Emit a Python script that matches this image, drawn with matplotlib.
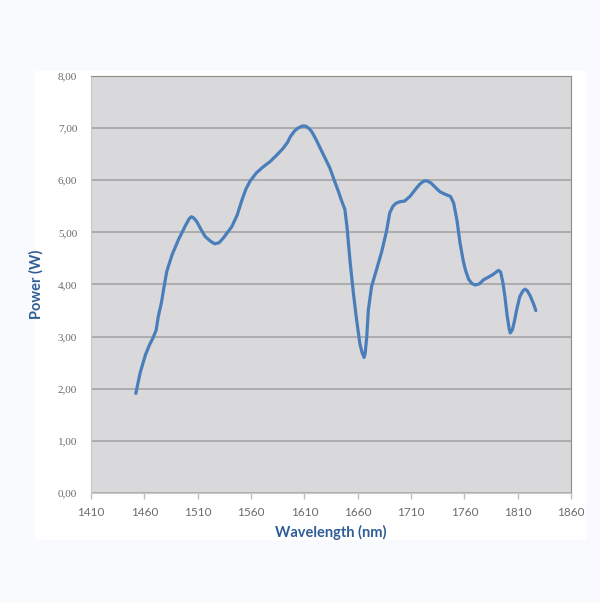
import matplotlib.pyplot as plt
from matplotlib.patches import Rectangle

# values
wavelength = [1452, 1456, 1461, 1465, 1468, 1471, 1473, 1476, 1478, 1481, 1486, 1492,
              1498, 1502, 1504, 1506, 1509, 1513, 1517, 1522, 1526, 1530, 1534, 1538,
              1542, 1547, 1551, 1555, 1559, 1565, 1571, 1578, 1584, 1590, 1594, 1597,
              1601, 1604, 1608, 1611, 1614, 1617, 1621, 1625, 1630, 1634, 1638, 1642,
              1645, 1648, 1650, 1653, 1656, 1659, 1662, 1664, 1666, 1667, 1668.5, 1670,
              1673, 1678, 1682.5, 1687, 1690, 1693, 1696, 1700, 1704, 1709, 1714, 1718,
              1721, 1723, 1726, 1729, 1733, 1737, 1742, 1747, 1750, 1753, 1756, 1759,
              1761, 1764, 1767, 1770, 1774, 1778, 1786, 1790, 1792, 1794, 1796, 1798,
              1800, 1802, 1803, 1805, 1807, 1809, 1812, 1815, 1817, 1819, 1822, 1825,
              1827]
power = [1.91, 2.30, 2.65, 2.85, 2.97, 3.12, 3.38, 3.65, 3.90, 4.25, 4.57, 4.86,
         5.11, 5.26, 5.30, 5.28, 5.21, 5.06, 4.92, 4.83, 4.78, 4.80, 4.89, 5.00,
         5.11, 5.33, 5.59, 5.82, 5.98, 6.14, 6.25, 6.36, 6.48, 6.61, 6.72, 6.84,
         6.95, 7.00, 7.04, 7.04, 7.00, 6.93, 6.78, 6.61, 6.40, 6.23, 6.00, 5.78,
         5.60, 5.44, 5.10, 4.41, 3.83, 3.32, 2.87, 2.70, 2.60, 2.68, 3.00, 3.51,
         3.96, 4.31, 4.63, 5.02, 5.37, 5.50, 5.56, 5.59, 5.60, 5.69, 5.82, 5.92,
         5.97, 5.99, 5.98, 5.94, 5.86, 5.78, 5.73, 5.69, 5.56, 5.24, 4.79, 4.45,
         4.28, 4.10, 4.02, 3.99, 4.01, 4.09, 4.18, 4.24, 4.27, 4.24, 4.05, 3.77,
         3.42, 3.15, 3.07, 3.13, 3.30, 3.51, 3.77, 3.88, 3.91, 3.88, 3.77, 3.62,
         3.50]

x_ticks = [1410, 1460, 1510, 1560, 1610, 1660, 1710, 1760, 1810, 1860]
y_ticks = [0, 1, 2, 3, 4, 5, 6, 7, 8]

fig = plt.figure(figsize=(6.0, 6.02), dpi=100, facecolor='#f8fafd')
# white chart panel behind the plot
fig.patches.append(Rectangle((0.058, 0.103), 0.919, 0.779, transform=fig.transFigure,
                             facecolor='white', edgecolor='none', zorder=-10))

ax = fig.add_axes([0.1517, 0.1811, 0.8, 0.6927])
ax.set_facecolor('#d9d9db')
ax.plot(wavelength, power, color='#4a7ebb', lw=2.3, solid_capstyle='round',
        solid_joinstyle='round', zorder=3)

ax.set_xlim(1410, 1860)
ax.set_ylim(0, 8)
ax.set_xticks(x_ticks)
ax.set_yticks(y_ticks)
ax.set_yticklabels([f"{v:.2f}".replace('.', ',') for v in y_ticks])
ax.grid(axis='y', color='#a5a5a5', lw=1.2)
ax.set_axisbelow(True)

ax.tick_params(axis='x', colors='#bfbfbf', length=4, width=1, labelcolor='#6b6b6b',
               labelsize=8.5, pad=6)
ax.tick_params(axis='y', length=0, labelcolor='#6b6b6b', labelsize=8, pad=10)
for lab in ax.get_xticklabels():
    lab.set_family('Lato')
for lab in ax.get_yticklabels():
    lab.set_family('Liberation Serif')

for side in ['left', 'bottom']:
    ax.spines[side].set_color('#c8c8c8')
for side in ['top', 'right']:
    ax.spines[side].set_color('#8e8e80')

ax.set_xlabel('Wavelength (nm)', fontsize=10.5, fontweight='bold', color='#2f5d96',
              family='Lato', labelpad=5)
ax.set_ylabel('Power (W)', fontsize=10.5, fontweight='bold', color='#2f5d96',
              family='Lato', labelpad=10)

plt.savefig('out.png', dpi=100, facecolor=fig.get_facecolor())
